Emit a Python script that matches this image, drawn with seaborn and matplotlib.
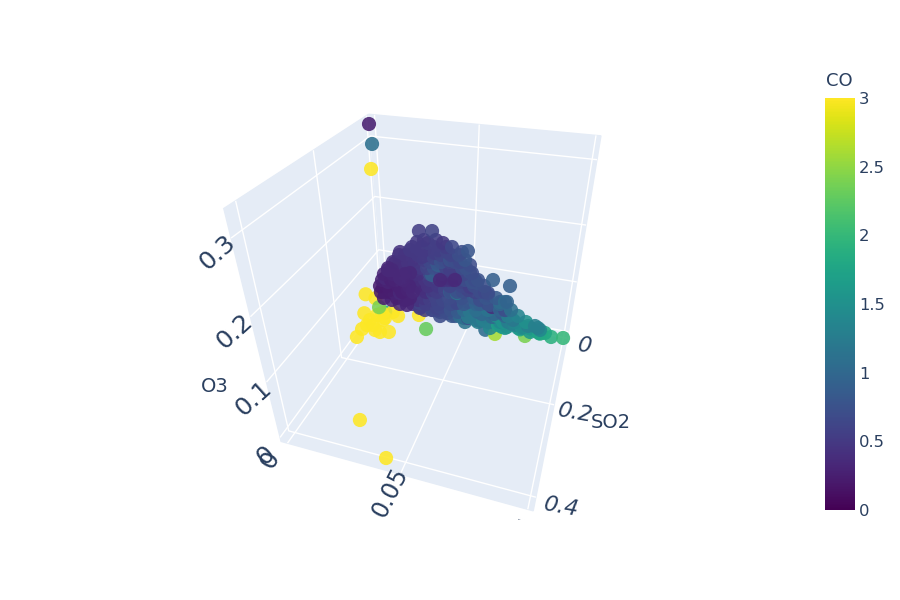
import numpy as np
import pandas as pd
import matplotlib
matplotlib.use('Agg')
import matplotlib.pyplot as plt
from matplotlib.transforms import Bbox
import seaborn as sns

# all gas values in 1e-4 ppm
# dense cluster, SO2 close to zero
cluster_so2 = 50
cluster_no2 = [218, 288, 206, 265, 345, 393, 109, 166, 476, 445, 489, 313, 77, 34, 13, 72, 152, 231, 302, 383,
               421, 518, 501, 285, 373, 423, 67, 170, 227, 612, 701, 682, 656, 671, 616, 591, 529, 385, 488, 460,
               654, 732, 788, 824, 877, 311, 369, 542, 571, 703, 411, 329, 493, 550, 619, 424, 289, 329, 999,
               938, 874, 865, 827, 783, 745, 706, 692, 685, 677, 138, 213, 288, 423, 488, 318, 422, 368, 161, 38,
               97, -4, 244, 308, 137, 193, 248, 319, 367, 106, 175, 242, 297, 351, 410, 462, 57, 116, 190, 258,
               329, 384, 447, 490, 29, 102, 171, 245, 312, 439, 503, 7, 145, 215, 284, 357, 418, 483, 547, 590,
               46, 125, 202, 272, 346, 413, 485, 551, 604, 212, 282, 357, 431, 498, 564, 629, 688, 397, 466, 533,
               599, 664, 728, 178, 232, 297, 361, 103, 154, 209, 264, 335, 388, 430, 66, 129, 191, 275, 335, 383,
               436, 35, 87, 156, 224, 296, 362, 416, 469, 8, 62, 132, 206, 274, 340, 400, 459, -6, 48, 119,
               194, 273, 346, 400, 465, 534, -21, 21, 87, 152, 198, 261, 318, 384, 450, 514, 567, -18, 37, 109,
               174, 249, 312, 390, 456, 521, 574, -2, 77, 155, 237, 306, 379, 451, 517, 581, 634, 93, 171, 248,
               317, 391, 463, 529, 593, 657, 241, 317, 391, 464, 530, 595, 659, 717, 329, 415, 499, 581, 645, 704,
               756, 472, 544, 610, 680, 743, 800, 612, 693, 762, 824, 135, 212, 329, 443, 555, 665, 773, 879, 904,
               841, 813, 849]
cluster_o3 = [1552, 1587, 1342, 1355, 1398, 1350, 1098, 1168, 1322, 1286, 1066, 1001, 863, 695, 516, 511, 906, 1070, 1187, 1100,
              871, 793, 919, 747, 701, 490, 232, 511, 402, 852, 792, 460, 442, 224, 310, 540, 741, 464, 6, -15,
              -44, 121, 13, 20, 18, 75, 7, 152, 2, -51, 726, 674, 637, 410, 102, 261, 380, 109, -58,
              -85, -49, 51, -64, -12, 24, 59, 467, 297, -71, 193, 115, 15, 469, -16, 965, 772, 738, 711, 278,
              252, 294, 1400, 1434, 1055, 1145, 1214, 1253, 1242, 900, 979, 1018, 1088, 1081, 1077, 1146, 709, 744, 789, 870,
              874, 906, 984, 932, 443, 572, 615, 621, 704, 705, 744, 214, 348, 436, 439, 487, 527, 570, 572, 580,
              66, 119, 172, 220, 270, 274, 324, 327, 344, 27, 10, 64, 73, 121, 126, 173, 173, -38, -32, -26,
              -21, 28, 33, 1232, 1262, 1298, 1333, 1036, 1065, 1096, 1128, 1168, 1198, 1222, 876, 913, 949, 998, 1033, 1061,
              1093, 736, 768, 809, 850, 893, 933, 965, 997, 597, 630, 673, 719, 760, 801, 838, 874, 462, 496, 541,
              588, 639, 684, 719, 759, 803, 325, 353, 395, 437, 467, 508, 544, 587, 629, 671, 705, 198, 234, 282,
              325, 375, 416, 468, 511, 554, 589, 77, 131, 183, 239, 286, 336, 384, 429, 472, 508, 10, 64, 117,
              165, 217, 267, 312, 357, 401, -19, 35, 88, 140, 187, 233, 278, 319, -89, -26, 35, 95, 142, 185,
              223, -116, -62, -13, 40, 87, 129, -142, -80, -28, 20, 17, 5, 0, -16, -32, -36, -49, -60, -25,
              -10, 54, 81]
cluster_co = [.55, .6, .5, .55, .5, .65, .45, .5, .8, .7, .7, .8, .4, .35, .35, .3, .45, .5, .55, .75, .55, .7, .7, .9, .45, .75, .3, .5, .45,
              .9, .9, 1.05, 1.05, .85, .4, .75, .75, .85, 1.25, 1.1, 1.7, 1.2, 1.45, 1.6, 1.4, .6, .7, 1.0, 1.3, 1.5, .35, .35, .55, .7, 1.0, .65, .6, .65,
              2.0, 1.9, 1.75, 1.3, 1.6, 1.5, 1.35, 1.25, .95, .7, 1.6,
              .3, .6, .65, 1.2, .7, .9, .4, .4, .35, .25, .35, .25,
              .5, .55, .45, .5, .5, .55, .6, .4, .45, .55, .6, .7, .7, .8,
              .35, .4, .45, .6, .7, .55, .7, .75, .3, .35, .4, .45, .6, .6, .75,
              .25, .3, .4, .5, .6, .75, .6, .7, .7, .3, .3, .45, .55, .65, .7, .8, .9, .75,
              .55, .6, .7, .85, 1.2, 1.0, .95, 1.0, .8, 1.1, 1.25, 1.3, 1.4, 1.3,
              .5, .5, .55, .55, .42, .45, .5, .52, .6, .62, .72, .38, .4, .48, .65, .75, .6, .65,
              .33, .36, .4, .5, .75, .6, .55, .75, .3, .32, .35, .42, .7, .55, .45, .65,
              .27, .28, .33, .38, .5, .42, .38, .7, .75, .22, .24, .27, .32, .36, .45, .5, .62, .65, .7, .72,
              .22, .24, .27, .33, .42, .55, .72, .7, .6, .65, .24, .26, .3, .48, .6, .68, .75, .85, .8, .85,
              .3, .4, .55, .62, .7, .82, .95, .7, 1, .55, .65, .75, 1.05, 1.1, 1.15, .95, 1.1,
              .7, .8, 1.2, 1.25, 1.5, 1.3, 1.35, 1.15, 1.3, 1.3, 1.55, 1.4, 1.5, 1.4, 1.6, 1.6, 1.55,
              .32, .5, .7, 1.05, 1.2, 1.6, 1.7, 1.85, 1.8, 1.7, 1.3, 1.3]

# the three high ozone readings
peak_so2 = [40, 40, 40]
peak_no2 = [-15, -7, -22]
peak_o3 = [3220, 2919, 2515]
peak_co = [.25, 1.1, 3]

# high SO2 readings, mostly yellow
low_so2 = [940, 500, 1080, 536, 431, 362, 1473, 1196, 1117, 1174, 855, 641, 769, 998, 1037, 540, 689, 1144, 3525, 4128,
           785, 357, 485, 507, 383, 182, 400]
low_no2 = [0, 0, 0, 130, 90, 234, -4, -7, 136, 92, 0, 18, 67, 33, 3, 37, 70, 61, 249, 431,
           311, 0, 49, 662, 812, 887, 605]
low_o3 = [620, 310, 310, 40, 40, 40, 40, 40, 40, 40, 40, 40, 40, 40, 40, 40, 40, 40, 40, 40,
          40, 40, 40, 40, 40, 40, 20]
low_co = [3, 3, 3, 3, 3, 3, 3, 3, 3, 3, 3, 3, 3, 3, 3, 3, 3, 3, 3, 3,
          2.3, 2.4, 1.8, 2.6, 2.4, 2.4, 1.05]

so2_ticks = [0, 0.2, 0.4]
no2_ticks = [0, 0.05, 0.1]
o3_ticks = [0, 0.1, 0.2, 0.3]
co_ticks = [0, 0.5, 1, 1.5, 2, 2.5, 3]
co_labels = ['0', '0.5', '1', '1.5', '2', '2.5', '3']

sns.set_theme(style='white')
plt.rcParams['font.family'] = ['DejaVu Sans']
ink = '#2a3f5f'
pane = '#E5ECF6'
vir = sns.color_palette('viridis', as_cmap=True)

cluster = pd.DataFrame({'NO2': cluster_no2, 'O3': cluster_o3, 'CO': cluster_co})
cluster['SO2'] = cluster_so2
peak = pd.DataFrame({'SO2': peak_so2, 'NO2': peak_no2, 'O3': peak_o3, 'CO': peak_co})
low = pd.DataFrame({'SO2': low_so2, 'NO2': low_no2, 'O3': low_o3, 'CO': low_co})
for d in (cluster, peak, low):
    d[['SO2', 'NO2', 'O3']] = d[['SO2', 'NO2', 'O3']] / 1e4

fig = plt.figure(figsize=(9, 6), dpi=100)
ax = fig.add_axes([0, 0, 1, 1], projection='3d')
ax.view_init(elev=33.5948, azim=17.836, roll=0.0673)
ax.set_proj_type('persp', focal_length=0.2307)
ax.set_box_aspect((1.0212, 1, 1.0049))
ax.set_xlim(-0.01, 0.424, view_margin=0)
ax.set_ylim(-0.003, 0.102, view_margin=0)
ax.set_zlim(-0.008, 0.333, view_margin=0)
ax.computed_zorder = False

# place the 3d box on the figure
S, tx, ty = 2321.17, 440.98, 288.69
xmin, xmax = ax.viewLim.intervalx
ymin, ymax = ax.viewLim.intervaly
L = S * (xmax - xmin)
left, top_px = tx + S * xmin, ty - S * ymax
ax.set_position([left / 900, (600 - top_px - L) / 600, L / 900, L / 600])
ax.patch.set_alpha(0)

for a in (ax.xaxis, ax.yaxis, ax.zaxis):
    a.set_pane_color(pane)
    a.pane.set_edgecolor(pane)
    a.line.set_color((1, 1, 1, 0))
    a._axinfo['grid'].update(color='white', linewidth=1.0)
    a._axinfo['tick'].update(inward_factor=0, outward_factor=0)
    a.set_tick_params(colors=(1, 1, 1, 0), labelsize=1)
ax.set_xticks(so2_ticks)
ax.set_yticks(no2_ticks)
ax.set_zticks(o3_ticks)
ax.set_xticklabels([])
ax.set_yticklabels([])
ax.set_zticklabels([])
ax.grid(True)

kw = dict(cmap=vir, vmin=0, vmax=3, s=104, linewidths=0, alpha=0.88, depthshade=False)

def draw(d, z):
    ax.scatter(d['SO2'], d['NO2'], d['O3'], c=d['CO'], zorder=z, **kw)

draw(low[low['CO'] == 1.8], 2.5)
draw(low[low['CO'] == 3], 3)
draw(peak, 3)
draw(low[(low['CO'] < 3) & (low['CO'] != 1.8)], 3.5)
draw(cluster[cluster['CO'] >= .36], 4)
draw(cluster[cluster['CO'] < .36], 5)

def lab(px, py, s, rot=0, size=16, **k):
    return fig.text(px / 900, 1 - py / 600, s, rotation=rot, rotation_mode='anchor', ha='center', va='center',
                    fontsize=size, color=ink, **k)

lab(217, 252, '0.3', 42, 18)
lab(235, 331, '0.2', 42, 18)
lab(253, 398, '0.1', 42, 18)
lab(266, 455, '0', 42, 18)
lab(270, 460, '0', 62, 18)
lab(215, 386, 'O3', 0, 14)
lab(390, 492, '0.05', 63, 17)
lab(585, 346, '0', -8, 16, style='oblique')
lab(575, 413, '0.2', -10, 16, style='oblique')
lab(561, 507, '0.4', -10, 16, style='oblique')
lab(611, 423, 'SO2', 0, 14)
# the last tick label is cut off in the original
cut = lab(523, 533, '0.1', 63, 17)
cut.set_clip_box(Bbox([[0, 80], [900, 600]]))
cut.set_clip_on(True)

cax = fig.add_axes([825 / 900, 1 - 510 / 600, 30 / 900, 412 / 600])
sm = plt.cm.ScalarMappable(norm=plt.Normalize(0, 3), cmap=vir)
cb = fig.colorbar(sm, cax=cax, ticks=co_ticks)
cb.ax.set_yticklabels(co_labels)
cb.outline.set_visible(False)
cb.ax.tick_params(length=0, pad=3, labelsize=11.8, labelcolor=ink)
fig.text(826 / 900, 1 - 81 / 600, 'CO', fontsize=13, color=ink, ha='left', va='center')

fig.savefig('out.png', dpi=100)
